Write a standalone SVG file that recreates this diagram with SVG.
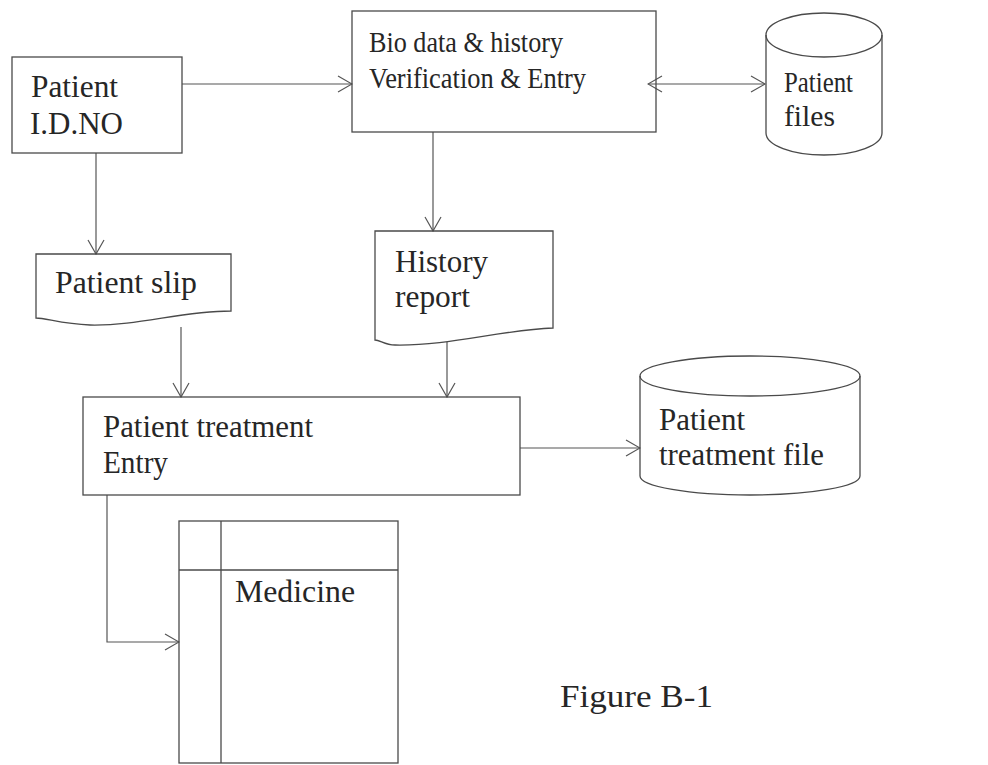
<svg xmlns="http://www.w3.org/2000/svg" width="988" height="765" viewBox="0 0 988 765">
  <style>
    .shape { fill: none; stroke: #4a4a4a; stroke-width: 1.3; }
    .link { fill: none; stroke: #555; stroke-width: 1.2; }
    .label { font-family: "Liberation Serif", "Times New Roman", serif; font-size: 31px; fill: #262626; }
    .narrow { font-size: 30px; }
  </style>
  <defs>
    <marker id="arrow" viewBox="0 0 16 18" refX="15" refY="9" markerWidth="16" markerHeight="18" markerUnits="userSpaceOnUse" orient="auto-start-reverse">
      <path d="M1,1 L15,9 L1,17" fill="none" stroke="#555" stroke-width="1.2"/>
    </marker>
  </defs>
  <rect width="988" height="765" fill="#ffffff"/>

  <!-- connectors -->
  <g id="connectors">
    <path class="link" d="M182,84 H352" marker-end="url(#arrow)"/>
    <path class="link" d="M648,84 H765" marker-start="url(#arrow)" marker-end="url(#arrow)"/>
    <path class="link" d="M96,153 V254" marker-end="url(#arrow)"/>
    <path class="link" d="M433,132 V231" marker-end="url(#arrow)"/>
    <path class="link" d="M181,327 V397" marker-end="url(#arrow)"/>
    <path class="link" d="M447,342 V397" marker-end="url(#arrow)"/>
    <path class="link" d="M520,448 H640" marker-end="url(#arrow)"/>
    <path class="link" d="M107,495 V642 H179" marker-end="url(#arrow)"/>
  </g>

  <!-- patient id -->
  <g id="patient-id">
    <rect class="shape" x="12" y="57" width="170" height="96"/>
    <text class="label" x="31" y="97" textLength="87" lengthAdjust="spacingAndGlyphs">Patient</text>
    <text class="label" x="30" y="134" textLength="93" lengthAdjust="spacingAndGlyphs">I.D.NO</text>
  </g>

  <!-- bio data verification -->
  <g id="bio-data">
    <rect class="shape" x="352" y="11" width="304" height="121"/>
    <text class="label narrow" x="369" y="52" textLength="194" lengthAdjust="spacingAndGlyphs">Bio data &amp; history</text>
    <text class="label narrow" x="369" y="88" textLength="217" lengthAdjust="spacingAndGlyphs">Verification &amp; Entry</text>
  </g>

  <!-- patient files store -->
  <g id="patient-files">
    <path class="shape" d="M766,35 V133 A58,22 0 0 0 882,133 V35"/>
    <ellipse class="shape" cx="824" cy="35" rx="58" ry="22"/>
    <text class="label narrow" x="784" y="92" textLength="69" lengthAdjust="spacingAndGlyphs">Patient</text>
    <text class="label narrow" x="784" y="126" textLength="51" lengthAdjust="spacingAndGlyphs">files</text>
  </g>

  <!-- patient slip document -->
  <g id="patient-slip">
    <path class="shape" d="M36,254 H231 V311 C180,311 140,326 90,325 C62,324 46,318 36,318 Z"/>
    <text class="label" x="55" y="293" textLength="142" lengthAdjust="spacingAndGlyphs">Patient slip</text>
  </g>

  <!-- history report document -->
  <g id="history-report">
    <path class="shape" d="M375,231 H553 V328 C500,330 450,346 395,345 C385,345 380,340 375,340 Z"/>
    <text class="label" x="395" y="272" textLength="93" lengthAdjust="spacingAndGlyphs">History</text>
    <text class="label" x="395" y="307" textLength="75" lengthAdjust="spacingAndGlyphs">report</text>
  </g>

  <!-- treatment entry -->
  <g id="treatment-entry">
    <rect class="shape" x="83" y="397" width="437" height="98"/>
    <text class="label" x="103" y="437" textLength="210" lengthAdjust="spacingAndGlyphs">Patient treatment</text>
    <text class="label" x="103" y="473" textLength="65" lengthAdjust="spacingAndGlyphs">Entry</text>
  </g>

  <!-- treatment file store -->
  <g id="treatment-file">
    <path class="shape" d="M640,376 V476 A110,19 0 0 0 860,476 V376"/>
    <ellipse class="shape" cx="750" cy="376" rx="110" ry="20"/>
    <text class="label" x="659" y="430" textLength="86" lengthAdjust="spacingAndGlyphs">Patient</text>
    <text class="label" x="659" y="465" textLength="165" lengthAdjust="spacingAndGlyphs">treatment file</text>
  </g>

  <!-- medicine register -->
  <g id="medicine">
    <rect class="shape" x="179" y="521" width="219" height="242"/>
    <line class="shape" x1="221" y1="521" x2="221" y2="763"/>
    <line class="shape" x1="179" y1="570" x2="398" y2="570"/>
    <text class="label" x="235" y="602" textLength="120" lengthAdjust="spacingAndGlyphs">Medicine</text>
  </g>

  <!-- caption -->
  <text class="label" x="560" y="707" textLength="153" lengthAdjust="spacingAndGlyphs">Figure B-1</text>
</svg>
